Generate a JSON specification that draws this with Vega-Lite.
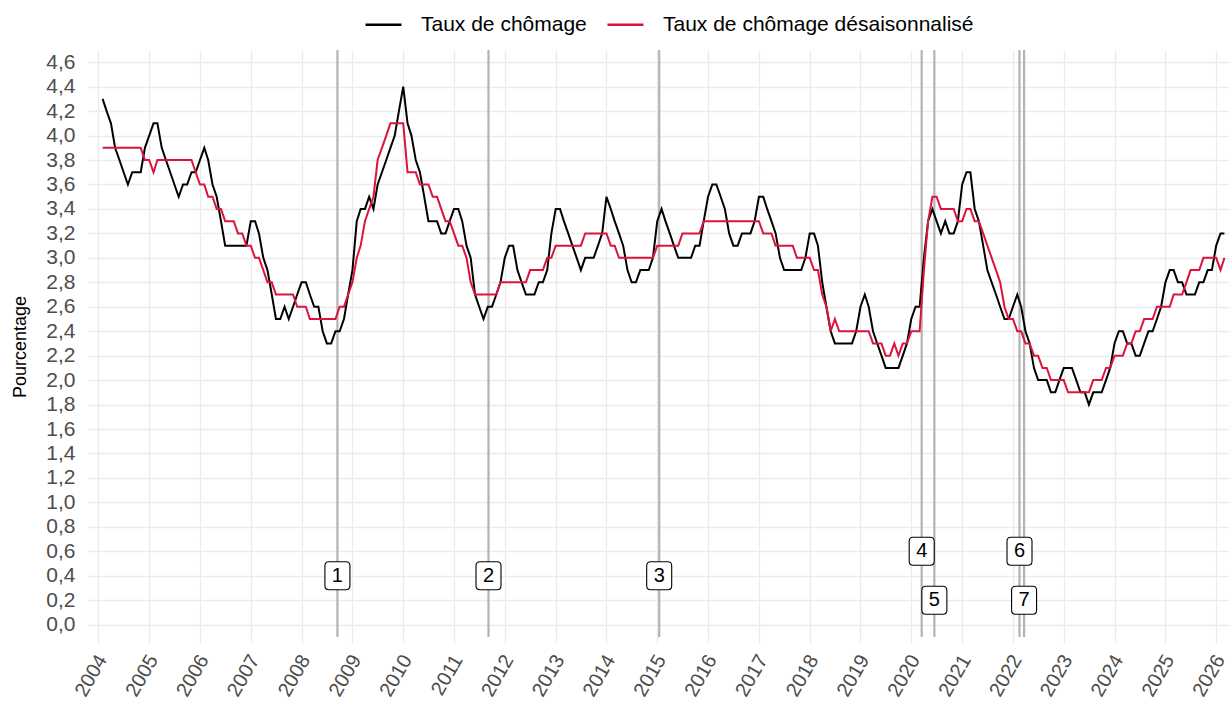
{
"$schema": "https://vega.github.io/schema/vega-lite/v6.json",
"width": 1141,
"height": 593,
"autosize": {"type": "none"},
"padding": {"left": 88, "top": 50, "right": 0, "bottom": 61},
"background": "white",
"config": {
  "view": {"stroke": null},
  "font": "Liberation Sans",
  "axis": {"gridColor": "#ebebeb", "gridWidth": 1.3, "domain": false, "ticks": false, "labelColor": "#4d4d4d", "labelFont": "Liberation Sans", "labelFontSize": 21, "titleFont": "Liberation Sans", "titleFontWeight": "normal", "titleColor": "#000000", "titleFontSize": 18}
},
"datasets": {
"serie": [
{"date":"2004-02-01","brut":4.3,"cvs":3.9},
{"date":"2004-03-01","brut":4.2,"cvs":3.9},
{"date":"2004-04-01","brut":4.1,"cvs":3.9},
{"date":"2004-05-01","brut":3.9,"cvs":3.9},
{"date":"2004-06-01","brut":3.8,"cvs":3.9},
{"date":"2004-07-01","brut":3.7,"cvs":3.9},
{"date":"2004-08-01","brut":3.6,"cvs":3.9},
{"date":"2004-09-01","brut":3.7,"cvs":3.9},
{"date":"2004-10-01","brut":3.7,"cvs":3.9},
{"date":"2004-11-01","brut":3.7,"cvs":3.9},
{"date":"2004-12-01","brut":3.9,"cvs":3.8},
{"date":"2005-01-01","brut":4.0,"cvs":3.8},
{"date":"2005-02-01","brut":4.1,"cvs":3.7},
{"date":"2005-03-01","brut":4.1,"cvs":3.8},
{"date":"2005-04-01","brut":3.9,"cvs":3.8},
{"date":"2005-05-01","brut":3.8,"cvs":3.8},
{"date":"2005-06-01","brut":3.7,"cvs":3.8},
{"date":"2005-07-01","brut":3.6,"cvs":3.8},
{"date":"2005-08-01","brut":3.5,"cvs":3.8},
{"date":"2005-09-01","brut":3.6,"cvs":3.8},
{"date":"2005-10-01","brut":3.6,"cvs":3.8},
{"date":"2005-11-01","brut":3.7,"cvs":3.8},
{"date":"2005-12-01","brut":3.7,"cvs":3.7},
{"date":"2006-01-01","brut":3.8,"cvs":3.6},
{"date":"2006-02-01","brut":3.9,"cvs":3.6},
{"date":"2006-03-01","brut":3.8,"cvs":3.5},
{"date":"2006-04-01","brut":3.6,"cvs":3.5},
{"date":"2006-05-01","brut":3.5,"cvs":3.4},
{"date":"2006-06-01","brut":3.3,"cvs":3.4},
{"date":"2006-07-01","brut":3.1,"cvs":3.3},
{"date":"2006-08-01","brut":3.1,"cvs":3.3},
{"date":"2006-09-01","brut":3.1,"cvs":3.3},
{"date":"2006-10-01","brut":3.1,"cvs":3.2},
{"date":"2006-11-01","brut":3.1,"cvs":3.2},
{"date":"2006-12-01","brut":3.1,"cvs":3.1},
{"date":"2007-01-01","brut":3.3,"cvs":3.1},
{"date":"2007-02-01","brut":3.3,"cvs":3.0},
{"date":"2007-03-01","brut":3.2,"cvs":3.0},
{"date":"2007-04-01","brut":3.0,"cvs":2.9},
{"date":"2007-05-01","brut":2.9,"cvs":2.8},
{"date":"2007-06-01","brut":2.7,"cvs":2.8},
{"date":"2007-07-01","brut":2.5,"cvs":2.7},
{"date":"2007-08-01","brut":2.5,"cvs":2.7},
{"date":"2007-09-01","brut":2.6,"cvs":2.7},
{"date":"2007-10-01","brut":2.5,"cvs":2.7},
{"date":"2007-11-01","brut":2.6,"cvs":2.7},
{"date":"2007-12-01","brut":2.7,"cvs":2.6},
{"date":"2008-01-01","brut":2.8,"cvs":2.6},
{"date":"2008-02-01","brut":2.8,"cvs":2.6},
{"date":"2008-03-01","brut":2.7,"cvs":2.5},
{"date":"2008-04-01","brut":2.6,"cvs":2.5},
{"date":"2008-05-01","brut":2.6,"cvs":2.5},
{"date":"2008-06-01","brut":2.4,"cvs":2.5},
{"date":"2008-07-01","brut":2.3,"cvs":2.5},
{"date":"2008-08-01","brut":2.3,"cvs":2.5},
{"date":"2008-09-01","brut":2.4,"cvs":2.5},
{"date":"2008-10-01","brut":2.4,"cvs":2.6},
{"date":"2008-11-01","brut":2.5,"cvs":2.6},
{"date":"2008-12-01","brut":2.7,"cvs":2.7},
{"date":"2009-01-01","brut":2.9,"cvs":2.8},
{"date":"2009-02-01","brut":3.3,"cvs":3.0},
{"date":"2009-03-01","brut":3.4,"cvs":3.1},
{"date":"2009-04-01","brut":3.4,"cvs":3.3},
{"date":"2009-05-01","brut":3.5,"cvs":3.4},
{"date":"2009-06-01","brut":3.4,"cvs":3.5},
{"date":"2009-07-01","brut":3.6,"cvs":3.8},
{"date":"2009-08-01","brut":3.7,"cvs":3.9},
{"date":"2009-09-01","brut":3.8,"cvs":4.0},
{"date":"2009-10-01","brut":3.9,"cvs":4.1},
{"date":"2009-11-01","brut":4.0,"cvs":4.1},
{"date":"2009-12-01","brut":4.2,"cvs":4.1},
{"date":"2010-01-01","brut":4.4,"cvs":4.1},
{"date":"2010-02-01","brut":4.1,"cvs":3.7},
{"date":"2010-03-01","brut":4.0,"cvs":3.7},
{"date":"2010-04-01","brut":3.8,"cvs":3.7},
{"date":"2010-05-01","brut":3.7,"cvs":3.6},
{"date":"2010-06-01","brut":3.5,"cvs":3.6},
{"date":"2010-07-01","brut":3.3,"cvs":3.6},
{"date":"2010-08-01","brut":3.3,"cvs":3.5},
{"date":"2010-09-01","brut":3.3,"cvs":3.5},
{"date":"2010-10-01","brut":3.2,"cvs":3.4},
{"date":"2010-11-01","brut":3.2,"cvs":3.3},
{"date":"2010-12-01","brut":3.3,"cvs":3.3},
{"date":"2011-01-01","brut":3.4,"cvs":3.2},
{"date":"2011-02-01","brut":3.4,"cvs":3.1},
{"date":"2011-03-01","brut":3.3,"cvs":3.1},
{"date":"2011-04-01","brut":3.1,"cvs":3.0},
{"date":"2011-05-01","brut":3.0,"cvs":2.8},
{"date":"2011-06-01","brut":2.7,"cvs":2.7},
{"date":"2011-07-01","brut":2.6,"cvs":2.7},
{"date":"2011-08-01","brut":2.5,"cvs":2.7},
{"date":"2011-09-01","brut":2.6,"cvs":2.7},
{"date":"2011-10-01","brut":2.6,"cvs":2.7},
{"date":"2011-11-01","brut":2.7,"cvs":2.7},
{"date":"2011-12-01","brut":2.8,"cvs":2.8},
{"date":"2012-01-01","brut":3.0,"cvs":2.8},
{"date":"2012-02-01","brut":3.1,"cvs":2.8},
{"date":"2012-03-01","brut":3.1,"cvs":2.8},
{"date":"2012-04-01","brut":2.9,"cvs":2.8},
{"date":"2012-05-01","brut":2.8,"cvs":2.8},
{"date":"2012-06-01","brut":2.7,"cvs":2.8},
{"date":"2012-07-01","brut":2.7,"cvs":2.9},
{"date":"2012-08-01","brut":2.7,"cvs":2.9},
{"date":"2012-09-01","brut":2.8,"cvs":2.9},
{"date":"2012-10-01","brut":2.8,"cvs":2.9},
{"date":"2012-11-01","brut":2.9,"cvs":3.0},
{"date":"2012-12-01","brut":3.2,"cvs":3.0},
{"date":"2013-01-01","brut":3.4,"cvs":3.1},
{"date":"2013-02-01","brut":3.4,"cvs":3.1},
{"date":"2013-03-01","brut":3.3,"cvs":3.1},
{"date":"2013-04-01","brut":3.2,"cvs":3.1},
{"date":"2013-05-01","brut":3.1,"cvs":3.1},
{"date":"2013-06-01","brut":3.0,"cvs":3.1},
{"date":"2013-07-01","brut":2.9,"cvs":3.1},
{"date":"2013-08-01","brut":3.0,"cvs":3.2},
{"date":"2013-09-01","brut":3.0,"cvs":3.2},
{"date":"2013-10-01","brut":3.0,"cvs":3.2},
{"date":"2013-11-01","brut":3.1,"cvs":3.2},
{"date":"2013-12-01","brut":3.2,"cvs":3.2},
{"date":"2014-01-01","brut":3.5,"cvs":3.2},
{"date":"2014-02-01","brut":3.4,"cvs":3.1},
{"date":"2014-03-01","brut":3.3,"cvs":3.1},
{"date":"2014-04-01","brut":3.2,"cvs":3.0},
{"date":"2014-05-01","brut":3.1,"cvs":3.0},
{"date":"2014-06-01","brut":2.9,"cvs":3.0},
{"date":"2014-07-01","brut":2.8,"cvs":3.0},
{"date":"2014-08-01","brut":2.8,"cvs":3.0},
{"date":"2014-09-01","brut":2.9,"cvs":3.0},
{"date":"2014-10-01","brut":2.9,"cvs":3.0},
{"date":"2014-11-01","brut":2.9,"cvs":3.0},
{"date":"2014-12-01","brut":3.0,"cvs":3.0},
{"date":"2015-01-01","brut":3.3,"cvs":3.1},
{"date":"2015-02-01","brut":3.4,"cvs":3.1},
{"date":"2015-03-01","brut":3.3,"cvs":3.1},
{"date":"2015-04-01","brut":3.2,"cvs":3.1},
{"date":"2015-05-01","brut":3.1,"cvs":3.1},
{"date":"2015-06-01","brut":3.0,"cvs":3.1},
{"date":"2015-07-01","brut":3.0,"cvs":3.2},
{"date":"2015-08-01","brut":3.0,"cvs":3.2},
{"date":"2015-09-01","brut":3.0,"cvs":3.2},
{"date":"2015-10-01","brut":3.1,"cvs":3.2},
{"date":"2015-11-01","brut":3.1,"cvs":3.2},
{"date":"2015-12-01","brut":3.3,"cvs":3.3},
{"date":"2016-01-01","brut":3.5,"cvs":3.3},
{"date":"2016-02-01","brut":3.6,"cvs":3.3},
{"date":"2016-03-01","brut":3.6,"cvs":3.3},
{"date":"2016-04-01","brut":3.5,"cvs":3.3},
{"date":"2016-05-01","brut":3.4,"cvs":3.3},
{"date":"2016-06-01","brut":3.2,"cvs":3.3},
{"date":"2016-07-01","brut":3.1,"cvs":3.3},
{"date":"2016-08-01","brut":3.1,"cvs":3.3},
{"date":"2016-09-01","brut":3.2,"cvs":3.3},
{"date":"2016-10-01","brut":3.2,"cvs":3.3},
{"date":"2016-11-01","brut":3.2,"cvs":3.3},
{"date":"2016-12-01","brut":3.3,"cvs":3.3},
{"date":"2017-01-01","brut":3.5,"cvs":3.3},
{"date":"2017-02-01","brut":3.5,"cvs":3.2},
{"date":"2017-03-01","brut":3.4,"cvs":3.2},
{"date":"2017-04-01","brut":3.3,"cvs":3.2},
{"date":"2017-05-01","brut":3.2,"cvs":3.1},
{"date":"2017-06-01","brut":3.0,"cvs":3.1},
{"date":"2017-07-01","brut":2.9,"cvs":3.1},
{"date":"2017-08-01","brut":2.9,"cvs":3.1},
{"date":"2017-09-01","brut":2.9,"cvs":3.1},
{"date":"2017-10-01","brut":2.9,"cvs":3.0},
{"date":"2017-11-01","brut":2.9,"cvs":3.0},
{"date":"2017-12-01","brut":3.0,"cvs":3.0},
{"date":"2018-01-01","brut":3.2,"cvs":3.0},
{"date":"2018-02-01","brut":3.2,"cvs":2.9},
{"date":"2018-03-01","brut":3.1,"cvs":2.9},
{"date":"2018-04-01","brut":2.8,"cvs":2.7},
{"date":"2018-05-01","brut":2.6,"cvs":2.6},
{"date":"2018-06-01","brut":2.4,"cvs":2.4},
{"date":"2018-07-01","brut":2.3,"cvs":2.5},
{"date":"2018-08-01","brut":2.3,"cvs":2.4},
{"date":"2018-09-01","brut":2.3,"cvs":2.4},
{"date":"2018-10-01","brut":2.3,"cvs":2.4},
{"date":"2018-11-01","brut":2.3,"cvs":2.4},
{"date":"2018-12-01","brut":2.4,"cvs":2.4},
{"date":"2019-01-01","brut":2.6,"cvs":2.4},
{"date":"2019-02-01","brut":2.7,"cvs":2.4},
{"date":"2019-03-01","brut":2.6,"cvs":2.4},
{"date":"2019-04-01","brut":2.4,"cvs":2.3},
{"date":"2019-05-01","brut":2.3,"cvs":2.3},
{"date":"2019-06-01","brut":2.2,"cvs":2.3},
{"date":"2019-07-01","brut":2.1,"cvs":2.2},
{"date":"2019-08-01","brut":2.1,"cvs":2.2},
{"date":"2019-09-01","brut":2.1,"cvs":2.3},
{"date":"2019-10-01","brut":2.1,"cvs":2.2},
{"date":"2019-11-01","brut":2.2,"cvs":2.3},
{"date":"2019-12-01","brut":2.3,"cvs":2.3},
{"date":"2020-01-01","brut":2.5,"cvs":2.4},
{"date":"2020-02-01","brut":2.6,"cvs":2.4},
{"date":"2020-03-01","brut":2.6,"cvs":2.4},
{"date":"2020-04-01","brut":3.0,"cvs":2.9},
{"date":"2020-05-01","brut":3.3,"cvs":3.3},
{"date":"2020-06-01","brut":3.4,"cvs":3.5},
{"date":"2020-07-01","brut":3.3,"cvs":3.5},
{"date":"2020-08-01","brut":3.2,"cvs":3.4},
{"date":"2020-09-01","brut":3.3,"cvs":3.4},
{"date":"2020-10-01","brut":3.2,"cvs":3.4},
{"date":"2020-11-01","brut":3.2,"cvs":3.4},
{"date":"2020-12-01","brut":3.3,"cvs":3.3},
{"date":"2021-01-01","brut":3.6,"cvs":3.3},
{"date":"2021-02-01","brut":3.7,"cvs":3.4},
{"date":"2021-03-01","brut":3.7,"cvs":3.4},
{"date":"2021-04-01","brut":3.4,"cvs":3.3},
{"date":"2021-05-01","brut":3.3,"cvs":3.3},
{"date":"2021-06-01","brut":3.1,"cvs":3.2},
{"date":"2021-07-01","brut":2.9,"cvs":3.1},
{"date":"2021-08-01","brut":2.8,"cvs":3.0},
{"date":"2021-09-01","brut":2.7,"cvs":2.9},
{"date":"2021-10-01","brut":2.6,"cvs":2.8},
{"date":"2021-11-01","brut":2.5,"cvs":2.6},
{"date":"2021-12-01","brut":2.5,"cvs":2.5},
{"date":"2022-01-01","brut":2.6,"cvs":2.5},
{"date":"2022-02-01","brut":2.7,"cvs":2.4},
{"date":"2022-03-01","brut":2.6,"cvs":2.4},
{"date":"2022-04-01","brut":2.4,"cvs":2.3},
{"date":"2022-05-01","brut":2.3,"cvs":2.3},
{"date":"2022-06-01","brut":2.1,"cvs":2.2},
{"date":"2022-07-01","brut":2.0,"cvs":2.2},
{"date":"2022-08-01","brut":2.0,"cvs":2.1},
{"date":"2022-09-01","brut":2.0,"cvs":2.1},
{"date":"2022-10-01","brut":1.9,"cvs":2.0},
{"date":"2022-11-01","brut":1.9,"cvs":2.0},
{"date":"2022-12-01","brut":2.0,"cvs":2.0},
{"date":"2023-01-01","brut":2.1,"cvs":2.0},
{"date":"2023-02-01","brut":2.1,"cvs":1.9},
{"date":"2023-03-01","brut":2.1,"cvs":1.9},
{"date":"2023-04-01","brut":2.0,"cvs":1.9},
{"date":"2023-05-01","brut":1.9,"cvs":1.9},
{"date":"2023-06-01","brut":1.9,"cvs":1.9},
{"date":"2023-07-01","brut":1.8,"cvs":1.9},
{"date":"2023-08-01","brut":1.9,"cvs":2.0},
{"date":"2023-09-01","brut":1.9,"cvs":2.0},
{"date":"2023-10-01","brut":1.9,"cvs":2.0},
{"date":"2023-11-01","brut":2.0,"cvs":2.1},
{"date":"2023-12-01","brut":2.1,"cvs":2.1},
{"date":"2024-01-01","brut":2.3,"cvs":2.2},
{"date":"2024-02-01","brut":2.4,"cvs":2.2},
{"date":"2024-03-01","brut":2.4,"cvs":2.2},
{"date":"2024-04-01","brut":2.3,"cvs":2.3},
{"date":"2024-05-01","brut":2.3,"cvs":2.3},
{"date":"2024-06-01","brut":2.2,"cvs":2.4},
{"date":"2024-07-01","brut":2.2,"cvs":2.4},
{"date":"2024-08-01","brut":2.3,"cvs":2.5},
{"date":"2024-09-01","brut":2.4,"cvs":2.5},
{"date":"2024-10-01","brut":2.4,"cvs":2.5},
{"date":"2024-11-01","brut":2.5,"cvs":2.6},
{"date":"2024-12-01","brut":2.6,"cvs":2.6},
{"date":"2025-01-01","brut":2.8,"cvs":2.6},
{"date":"2025-02-01","brut":2.9,"cvs":2.6},
{"date":"2025-03-01","brut":2.9,"cvs":2.7},
{"date":"2025-04-01","brut":2.8,"cvs":2.7},
{"date":"2025-05-01","brut":2.8,"cvs":2.7},
{"date":"2025-06-01","brut":2.7,"cvs":2.8},
{"date":"2025-07-01","brut":2.7,"cvs":2.9},
{"date":"2025-08-01","brut":2.7,"cvs":2.9},
{"date":"2025-09-01","brut":2.8,"cvs":2.9},
{"date":"2025-10-01","brut":2.8,"cvs":3.0},
{"date":"2025-11-01","brut":2.9,"cvs":3.0},
{"date":"2025-12-01","brut":2.9,"cvs":3.0},
{"date":"2026-01-01","brut":3.1,"cvs":3.0},
{"date":"2026-02-01","brut":3.2,"cvs":2.9},
{"date":"2026-03-01","brut":3.2,"cvs":3.0}
],
"evenements": [
{"date":"2008-09-15","num":"1","niveau":0.4},
{"date":"2011-09-06","num":"2","niveau":0.4},
{"date":"2015-01-15","num":"3","niveau":0.4},
{"date":"2020-03-16","num":"4","niveau":0.6},
{"date":"2020-06-15","num":"5","niveau":0.2},
{"date":"2022-02-17","num":"6","niveau":0.6},
{"date":"2022-03-22","num":"7","niveau":0.2}
]
},
"layer": [
{
  "data": {"name": "evenements"},
  "mark": {"type": "rule", "color": "#b3b3b3", "strokeWidth": 2.2},
  "encoding": {
    "x": {"field": "date", "type": "temporal", "scale": {"type": "utc", "nice": false, "domain": [{"year": 2003, "month": 10, "date": 19, "utc": true}, {"year": 2026, "month": 4, "date": 3, "utc": true}]},
      "axis": {"title": null, "format": "%Y", "tickCount": {"interval": "year", "step": 1}, "labelAngle": -60, "labelAlign": "right", "labelBaseline": "top", "labelPadding": 8, "labelOffset": -5, "labelFontSize": 20, "labelOverlap": false, "labelFlush": false, "grid": true}},
    "y": {"datum": -0.1, "type": "quantitative", "scale": {"domain": [-0.15, 4.7], "nice": false, "zero": false},
      "axis": {"title": "Pourcentage", "values": [0,0.2,0.4,0.6,0.8,1,1.2,1.4,1.6,1.8,2,2.2,2.4,2.6,2.8,3,3.2,3.4,3.6,3.8,4,4.2,4.4,4.6], "labelExpr": "replace(format(datum.value, '.1f'), '.', ',')", "labelPadding": 13, "titleX": -68, "titleBaseline": "middle", "titleAngle": 270, "grid": true}},
    "y2": {"datum": 4.7}
  }
},
{
  "data": {"name": "serie"},
  "transform": [{"fold": ["brut", "cvs"], "as": ["serie", "taux"]}],
  "mark": {"type": "line", "strokeWidth": 2},
  "encoding": {
    "x": {"field": "date", "type": "temporal", "scale": {"type": "utc", "nice": false, "domain": [{"year": 2003, "month": 10, "date": 19, "utc": true}, {"year": 2026, "month": 4, "date": 3, "utc": true}]},
      "axis": {"title": null, "format": "%Y", "tickCount": {"interval": "year", "step": 1}, "labelAngle": -60, "labelAlign": "right", "labelBaseline": "top", "labelPadding": 8, "labelOffset": -5, "labelFontSize": 20, "labelOverlap": false, "labelFlush": false, "grid": true}},
    "y": {"field": "taux", "type": "quantitative", "scale": {"domain": [-0.15, 4.7], "nice": false, "zero": false},
      "axis": {"title": "Pourcentage", "values": [0,0.2,0.4,0.6,0.8,1,1.2,1.4,1.6,1.8,2,2.2,2.4,2.6,2.8,3,3.2,3.4,3.6,3.8,4,4.2,4.4,4.6], "labelExpr": "replace(format(datum.value, '.1f'), '.', ',')", "labelPadding": 13, "titleX": -68, "titleBaseline": "middle", "titleAngle": 270, "grid": true}},
    "color": {"field": "serie", "type": "nominal", "scale": {"domain": ["brut", "cvs"], "range": ["#000000", "#dc143c"]},
      "legend": {"title": null, "orient": "none", "legendX": 276, "legendY": -45, "direction": "horizontal", "symbolType": "stroke", "symbolSize": 1296, "symbolStrokeWidth": 2.5, "labelFontSize": 21, "labelColor": "#000000", "labelFont": "Liberation Sans", "labelOffset": 18, "columnPadding": 15, "padding": 0, "labelLimit": 0, "labelExpr": "datum.value == 'brut' ? 'Taux de chômage' : 'Taux de chômage désaisonnalisé'"}}
  }
},
{
  "data": {"name": "evenements"},
  "mark": {"type": "point", "shape": "M -0.607 -1 L 0.607 -1 Q 0.893 -1 0.893 -0.714 L 0.893 0.714 Q 0.893 1 0.607 1 L -0.607 1 Q -0.893 1 -0.893 0.714 L -0.893 -0.714 Q -0.893 -1 -0.607 -1 Z", "size": 784, "filled": true, "fill": "#ffffff", "stroke": "#000000", "strokeWidth": 1.1, "opacity": 1},
  "encoding": {
    "x": {"field": "date", "type": "temporal", "scale": {"type": "utc", "nice": false, "domain": [{"year": 2003, "month": 10, "date": 19, "utc": true}, {"year": 2026, "month": 4, "date": 3, "utc": true}]},
      "axis": {"title": null, "format": "%Y", "tickCount": {"interval": "year", "step": 1}, "labelAngle": -60, "labelAlign": "right", "labelBaseline": "top", "labelPadding": 8, "labelOffset": -5, "labelFontSize": 20, "labelOverlap": false, "labelFlush": false, "grid": true}},
    "y": {"field": "niveau", "type": "quantitative", "scale": {"domain": [-0.15, 4.7], "nice": false, "zero": false},
      "axis": {"title": "Pourcentage", "values": [0,0.2,0.4,0.6,0.8,1,1.2,1.4,1.6,1.8,2,2.2,2.4,2.6,2.8,3,3.2,3.4,3.6,3.8,4,4.2,4.4,4.6], "labelExpr": "replace(format(datum.value, '.1f'), '.', ',')", "labelPadding": 13, "titleX": -68, "titleBaseline": "middle", "titleAngle": 270, "grid": true}}
  }
},
{
  "data": {"name": "evenements"},
  "mark": {"type": "text", "fontSize": 20, "color": "#000000", "baseline": "middle", "align": "center", "font": "Liberation Sans"},
  "encoding": {
    "x": {"field": "date", "type": "temporal", "scale": {"type": "utc", "nice": false, "domain": [{"year": 2003, "month": 10, "date": 19, "utc": true}, {"year": 2026, "month": 4, "date": 3, "utc": true}]},
      "axis": {"title": null, "format": "%Y", "tickCount": {"interval": "year", "step": 1}, "labelAngle": -60, "labelAlign": "right", "labelBaseline": "top", "labelPadding": 8, "labelOffset": -5, "labelFontSize": 20, "labelOverlap": false, "labelFlush": false, "grid": true}},
    "y": {"field": "niveau", "type": "quantitative", "scale": {"domain": [-0.15, 4.7], "nice": false, "zero": false},
      "axis": {"title": "Pourcentage", "values": [0,0.2,0.4,0.6,0.8,1,1.2,1.4,1.6,1.8,2,2.2,2.4,2.6,2.8,3,3.2,3.4,3.6,3.8,4,4.2,4.4,4.6], "labelExpr": "replace(format(datum.value, '.1f'), '.', ',')", "labelPadding": 13, "titleX": -68, "titleBaseline": "middle", "titleAngle": 270, "grid": true}},
    "text": {"field": "num"}
  }
}
]
}
